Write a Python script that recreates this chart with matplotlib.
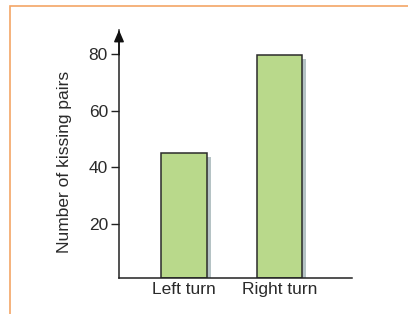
import matplotlib
matplotlib.use("Agg")
import matplotlib.pyplot as plt
from matplotlib.patches import Rectangle

categories = ["Left turn", "Right turn"]
values = [45, 79.5]
yticks = [20, 40, 60, 80]
ylabel = "Number of kissing pairs"

plt.rcParams['font.family'] = ['Liberation Sans', 'DejaVu Sans']

W, H = 408, 314
fig = plt.figure(figsize=(W/100, H/100), dpi=100)
fig.patch.set_facecolor('white')

# orange frame
fig.add_artist(Rectangle((9.5/W, -0.1), 1.2, 1 - 5.5/H + 0.1, transform=fig.transFigure,
                         fill=False, edgecolor='#f4a666', linewidth=1.2))

ax = fig.add_axes([119/W, 36.3/H, 233/W, 247.7/H])
ax.set_facecolor('none')
ymin, ymax = 1.0, 88.5
ax.set_ylim(ymin, ymax)
ax.set_xlim(-0.682, 1.763)

x = list(range(len(categories)))
width = 0.475
dx = 0.045
dy = 1.3
# shadows
ax.bar([xi + dx for xi in x], [v - dy - ymin for v in values], bottom=ymin, width=width,
       color='#b5c3c5', edgecolor='none', zorder=1)
ax.bar(x, [v - ymin for v in values], bottom=ymin, width=width, color='#b9d98b',
       edgecolor='#2b2b2b', linewidth=1.1, zorder=2)

for s in ['top', 'right']:
    ax.spines[s].set_visible(False)
ax.spines['left'].set_color('#222222')
ax.spines['bottom'].set_color('#222222')
ax.spines['left'].set_linewidth(1.1)
ax.spines['bottom'].set_linewidth(1.1)
ax.spines['bottom'].set_zorder(3)

# arrowhead on y axis
ax.annotate('', xy=(0, 1.0), xycoords='axes fraction', xytext=(0, 0.9),
            textcoords='axes fraction',
            arrowprops=dict(arrowstyle='-|>,head_length=0.7,head_width=0.3',
                            color='#111111', lw=1.1, shrinkA=0, shrinkB=0))

fs = 12.5
ax.set_yticks(yticks)
ax.set_yticklabels([str(t) for t in yticks])
ax.tick_params(axis='y', length=6, width=1.0, color='#222222', labelsize=fs,
               labelcolor='#2a2a2a', pad=2)
ax.set_xticks(x)
ax.set_xticklabels(categories)
ax.tick_params(axis='x', length=0, labelsize=fs, labelcolor='#2a2a2a', pad=3)

ax.set_ylabel(ylabel, fontsize=fs, color='#2a2a2a')
ax.yaxis.set_label_coords(-0.202, 0.469)

fig.savefig('out.png', dpi=100)
